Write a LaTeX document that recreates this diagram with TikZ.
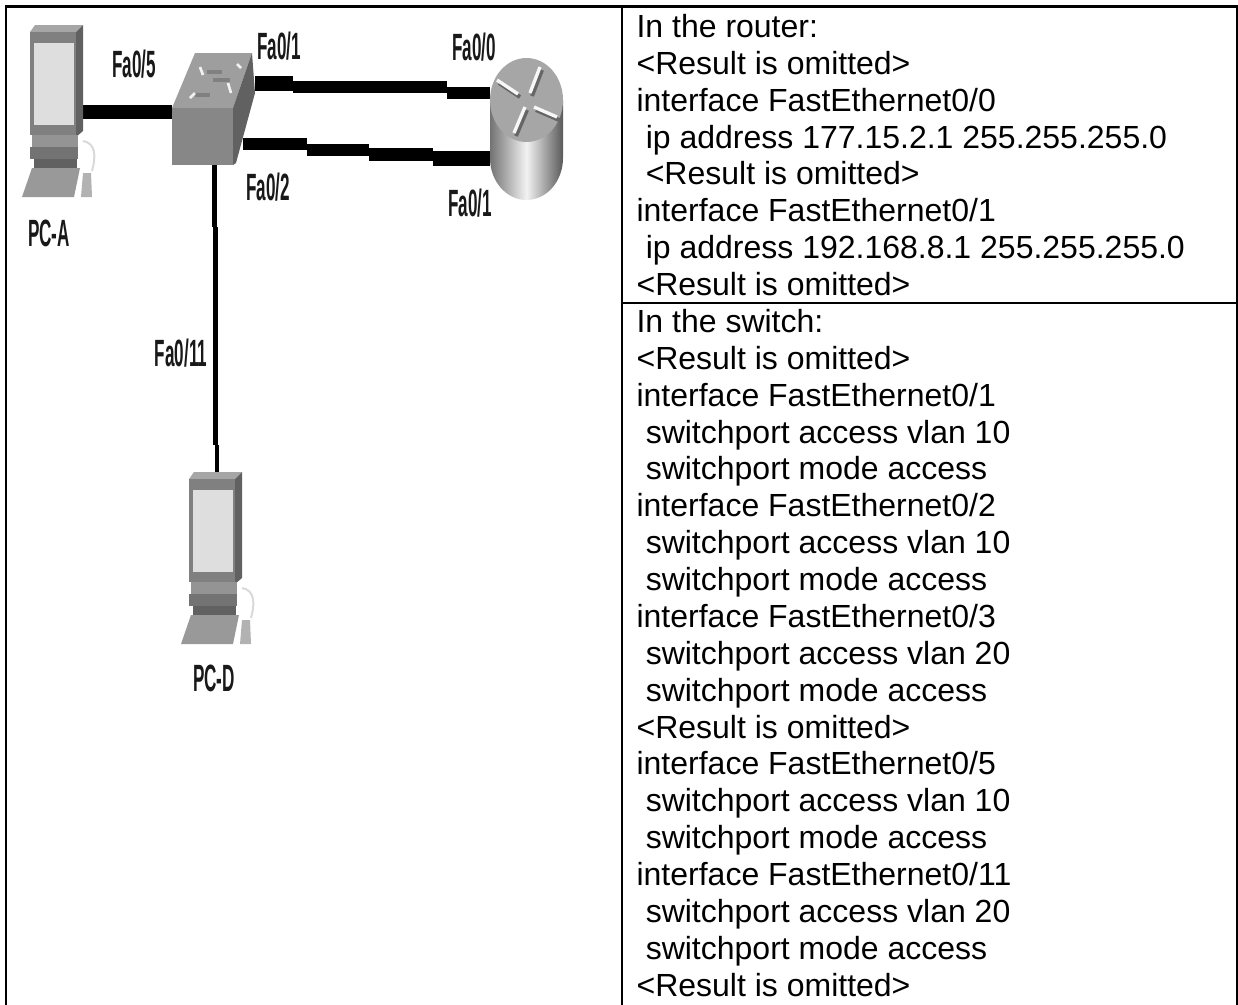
\documentclass[tikz,border=0pt]{standalone}
\usepackage{fontspec}
\setmainfont{Liberation Sans}
\usetikzlibrary{positioning}
\newcommand{\indentline}{\hspace*{6.9pt}}
\tikzset{
  pc/.pic={
    \fill[black!35] (0,7) -- (5,0) -- (53,0) -- (46,7) -- cycle;
    \fill[black!62] (46,7) -- (53,0) -- (53,106) -- (46,112) -- cycle;
    \fill[black!50] (0,7) rectangle (46,110);
    \fill[black!13] (4,18) rectangle (44,100);
    \fill[black!42] (2,110) rectangle (48,122);
    \fill[black!55] (0,122) rectangle (48,134);
    \fill[black!62] (4,134) rectangle (47,143);
    \draw[black!15, line width=1.5pt] (53,116) .. controls (66,118) and (66,132) .. (62,146);
    \fill[black!40] (-8,172) -- (2,143) -- (50,143) -- (44,172) -- cycle;
    \fill[black!30] (53,148) -- (61,148) -- (62,172) -- (51,172) -- cycle;
  },
}
\begin{document}
\begin{tikzpicture}[x=0.75pt, y=-0.75pt,
    cable/.style={black, line cap=butt},
    netlabel/.style={font=\fontsize{28.5}{30}\selectfont\bfseries, text=black!90, xscale=0.45, transform shape, inner sep=0pt},
    cell_text/.style={anchor=north west, inner sep=0pt, align=left, font=\fontsize{24}{27.65}\selectfont},
    table_line/.style={black, line cap=rect}]

  \useasboundingbox (0,0) rectangle (1238,1004);

  % table
  \coordinate (corner_nw) at (6,6.5);
  \coordinate (corner_ne) at (1237.2,6.5);
  \coordinate (corner_sw) at (6,1004);
  \coordinate (corner_se) at (1237.2,1004);
  \coordinate (split_n) at (622,6.5);
  \coordinate (split_s) at (622,1004);
  \coordinate (row_w) at (622,303);
  \coordinate (row_e) at (1237.2,303);
  \draw[table_line, line width=1.8pt] (corner_sw) -- (corner_nw) -- (corner_ne);
  \draw[table_line, line width=1.2pt] (corner_ne) -- (corner_se);
  \draw[table_line, line width=1.4pt] (split_n) -- (split_s);
  \draw[table_line, line width=1.3pt] (row_w) -- (row_e);

  \node[cell_text] (router_text) at (636.3,14) {In the router:\\
    <Result is omitted>\\
    interface FastEthernet0/0\\
    \indentline ip address 177.15.2.1 255.255.255.0\\
    \indentline <Result is omitted>\\
    interface FastEthernet0/1\\
    \indentline ip address 192.168.8.1 255.255.255.0\\
    <Result is omitted>};
  \node[cell_text] (switch_text) at (636.3,309) {In the switch:\\
    <Result is omitted>\\
    interface FastEthernet0/1\\
    \indentline switchport access vlan 10\\
    \indentline switchport mode access\\
    interface FastEthernet0/2\\
    \indentline switchport access vlan 10\\
    \indentline switchport mode access\\
    interface FastEthernet0/3\\
    \indentline switchport access vlan 20\\
    \indentline switchport mode access\\
    <Result is omitted>\\
    interface FastEthernet0/5\\
    \indentline switchport access vlan 10\\
    \indentline switchport mode access\\
    interface FastEthernet0/11\\
    \indentline switchport access vlan 20\\
    \indentline switchport mode access\\
    <Result is omitted>};

  % ports
  \coordinate (pca_port) at (83,112);
  \coordinate (sw_fa5) at (172,112);
  \coordinate (sw_fa1) at (255,83.5);
  \coordinate (sw_fa2) at (243,144);
  \coordinate (sw_fa11) at (214.5,165);
  \coordinate (rt_fa0) at (490,93);
  \coordinate (rt_fa1) at (490,158.5);
  \coordinate (pcd_port) at (217,472);

  % cables
  \draw[cable, line width=10.5pt] (pca_port) -- (sw_fa5);

  \draw[cable, line width=11pt] (sw_fa1) -- (293,83.5) coordinate (top_a);
  \draw[cable, line width=9.4pt] (293,87) coordinate (top_b) -- (447,87) coordinate (top_c);
  \draw[cable, line width=9.4pt] (447,93) coordinate (top_d) -- (rt_fa0);

  \draw[cable, line width=9pt] (sw_fa2) -- (307,144) coordinate (low_a);
  \draw[cable, line width=9pt] (307,149.5) coordinate (low_b) -- (369,149.5) coordinate (low_c);
  \draw[cable, line width=9.8pt] (369,154.5) coordinate (low_d) -- (433,154.5) coordinate (low_e);
  \draw[cable, line width=11.2pt] (433,158.5) coordinate (low_f) -- (rt_fa1);

  \draw[cable, line width=3.8pt] (sw_fa11) -- (214.5,227) coordinate (down_a);
  \draw[cable, line width=3.8pt] (215.5,227) coordinate (down_b) -- (215.5,445) coordinate (down_c);
  \draw[cable, line width=3.4pt] (217,445) coordinate (down_d) -- (pcd_port);

  % computers
  \pic (pca) at (30,25) {pc};
  \pic (pcd) at (189,472) {pc};

  % switch
  \fill[black!38] (172,108) -- (195,53) -- (252,53) -- (233,108) -- cycle;
  \fill[black!47] (172,108) rectangle (233,165);
  \fill[black!62] (233,108) -- (252,53) -- (255,93) -- (236,163) -- (233,165) -- cycle;
  \draw[black!50, line width=2.5pt] (207,72) -- (222,72);
  \draw[black!50, line width=2.5pt] (213,80) -- (230,80);
  \draw[black!50, line width=2.5pt] (195,95) -- (210,95);
  \draw[black!5, line width=2pt] (200,67) -- (203,75);
  \draw[black!5, line width=2pt] (237,64) -- (241,68);
  \draw[black!5, line width=2pt] (228,83) -- (231,93);
  \draw[black!5, line width=2pt] (190,98) -- (195,93);

  % router
  \shade[left color=black!55, right color=black!65, middle color=black!5, shading angle=90]
    (490,100) -- (490,158) arc (180:0:36.5 and 42) -- (563,100) -- cycle;
  \fill[black!35] (526.5,100) ellipse (36.5 and 42);
  \foreach \xa/\ya/\xb/\yb in {497/80/518/94, 540/67/530/93, 557/117/534/107, 514/133/525/107} {
    \draw[black!60, line width=3pt] (\xa+2,\ya+3) -- (\xb+2,\yb+3);
    \draw[black!3, line width=2.5pt] (\xa,\ya) -- (\xb,\yb);
  }

  % labels
  \node[netlabel] (lbl_fa5) at (134,64) {Fa0/5};
  \node[netlabel] (lbl_sw_fa1) at (279,46) {Fa0/1};
  \node[netlabel] (lbl_fa2) at (268,187) {Fa0/2};
  \node[netlabel] (lbl_rt_fa0) at (474,47) {Fa0/0};
  \node[netlabel] (lbl_rt_fa1) at (470,203) {Fa0/1};
  \node[netlabel] (lbl_fa11) at (181,353) {Fa0/11};
  \node[netlabel] (lbl_pca) at (49,233) {PC-A};
  \node[netlabel] (lbl_pcd) at (214,678) {PC-D};
\end{tikzpicture}
\end{document}
